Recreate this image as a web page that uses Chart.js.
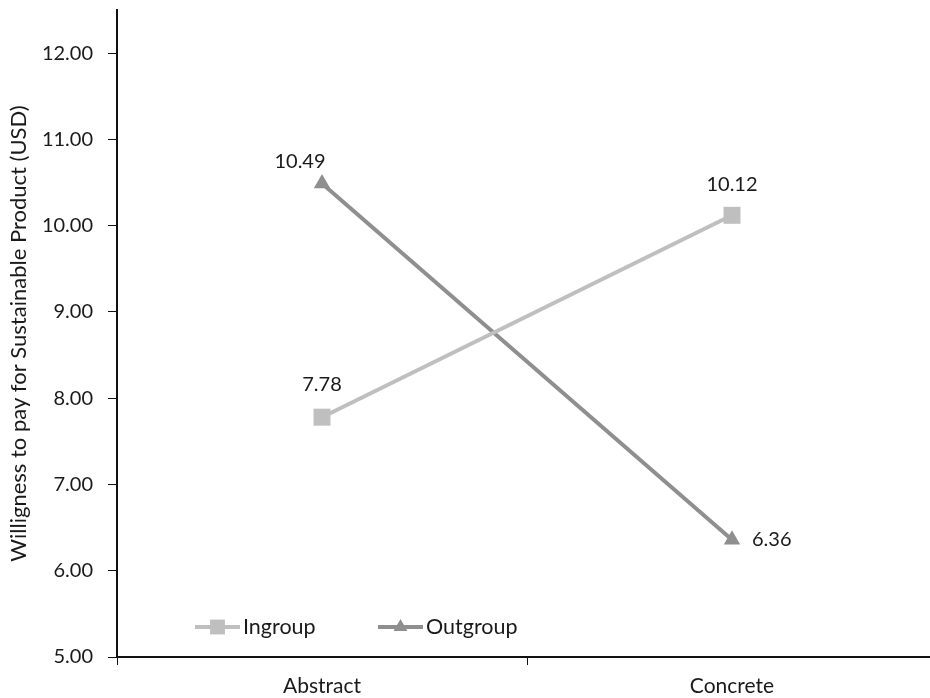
<!DOCTYPE html>
<html>
<head>
<meta charset="utf-8">
<script src="https://cdn.jsdelivr.net/npm/chart.js@4/dist/chart.umd.min.js"></script>
<style>
html,body{margin:0;padding:0;background:#fff;overflow:hidden;}
#wrap{width:930px;height:698px;position:relative;overflow:hidden;}
</style>
</head>
<body>
<div id="wrap"><canvas id="c" width="937" height="698"></canvas></div>
<script>
const categories = ["Abstract", "Concrete"];
const seriesNames = ["Ingroup", "Outgroup"];
const ingroupValues = [7.78, 10.12];
const outgroupValues = [10.49, 6.36];
const yTickValues = [5, 6, 7, 8, 9, 10, 11, 12];
const yAxisTitle = "Willigness to pay for Sustainable Product (USD)";

const FONT = "Lato, 'Open Sans', sans-serif";
const colIn = "#bfbfbf";
const colOut = "#8f8f8f";

// label placement per dataset/point: [dx, dy, align]
const labelPos = [
  [[0, -33, 'center'], [0, -31, 'center']],
  [[-22, -22, 'center'], [20, 0, 'left']]
];

const labelPlugin = {
  id: 'labels',
  afterDatasetsDraw(chart) {
    const ctx = chart.ctx;
    ctx.save();
    ctx.font = "20px " + FONT;
    ctx.fillStyle = "#1a1a1a";
    ctx.textBaseline = 'middle';
    chart.data.datasets.forEach((ds, di) => {
      const meta = chart.getDatasetMeta(di);
      meta.data.forEach((pt, i) => {
        const p = labelPos[di][i];
        ctx.textAlign = p[2];
        ctx.fillText(ds.data[i].toFixed(2), pt.x + p[0], pt.y + p[1]);
      });
    });
    // legend inside chart area
    ctx.font = "21.5px " + FONT;
    const items = [
      {x: 195, w: 45, style: 'rect', r: 10.5, col: colIn, text: seriesNames[0]},
      {x: 378, w: 45, style: 'triangle', r: 8, col: colOut, text: seriesNames[1]}
    ];
    const ly = 627;
    items.forEach(it => {
      ctx.strokeStyle = it.col;
      ctx.lineWidth = 4;
      ctx.beginPath();
      ctx.moveTo(it.x, ly);
      ctx.lineTo(it.x + it.w, ly);
      ctx.stroke();
      ctx.fillStyle = it.col;
      Chart.helpers.drawPoint(ctx, {pointStyle: it.style, radius: it.r, borderWidth: 0}, it.x + it.w / 2, ly);
      ctx.fillStyle = "#1a1a1a";
      ctx.textAlign = 'left';
      ctx.fillText(it.text, it.x + it.w + 3, ly);
    });
    ctx.restore();
  }
};

new Chart(document.getElementById('c'), {
  type: 'line',
  data: {
    labels: categories,
    datasets: [
      {
        label: seriesNames[0], data: ingroupValues,
        borderColor: colIn, backgroundColor: colIn, borderWidth: 4,
        pointStyle: 'rect', pointRadius: 12, pointHoverRadius: 12,
        pointBorderWidth: 0, tension: 0
      },
      {
        label: seriesNames[1], data: outgroupValues,
        borderColor: colOut, backgroundColor: colOut, borderWidth: 4,
        pointStyle: 'triangle', pointRadius: 9.5, pointHoverRadius: 9.5,
        pointBorderWidth: 0, tension: 0
      }
    ]
  },
  options: {
    responsive: false,
    animation: false,
    devicePixelRatio: 1,
    layout: {autoPadding: false, padding: {left: 0, right: 0, top: 10, bottom: 0}},
    plugins: {legend: {display: false}, tooltip: {enabled: false}},
    scales: {
      x: {
        type: 'category',
        offset: true,
        border: {display: true, color: '#111', width: 2},
        grid: {display: true, drawOnChartArea: false, drawTicks: true, offset: true, tickLength: 8, color: '#111', lineWidth: 1},
        ticks: {color: '#1a1a1a', font: {family: FONT, size: 21}, padding: 9, maxRotation: 0},
        afterFit(s) { s.height = 41; s.paddingLeft = 0; s.paddingRight = 0; }
      },
      y: {
        min: 5, max: 12.5,
        border: {display: true, color: '#111', width: 2},
        grid: {display: true, drawOnChartArea: false, drawTicks: true, tickLength: 9, color: '#111', lineWidth: 1},
        afterBuildTicks(s) { s.ticks = yTickValues.map(v => ({value: v})); },
        ticks: {color: '#1a1a1a', font: {family: FONT, size: 20}, padding: 15,
          callback: v => Number(v).toFixed(2)},
        title: {display: true, text: yAxisTitle, color: '#1a1a1a', font: {family: FONT, size: 22}, padding: {top: 6, bottom: 4}},
        afterFit(s) { s.width = 117; s.paddingTop = 0; s.paddingBottom = 0; }
      }
    }
  },
  plugins: [labelPlugin]
});
</script>
</body>
</html>
